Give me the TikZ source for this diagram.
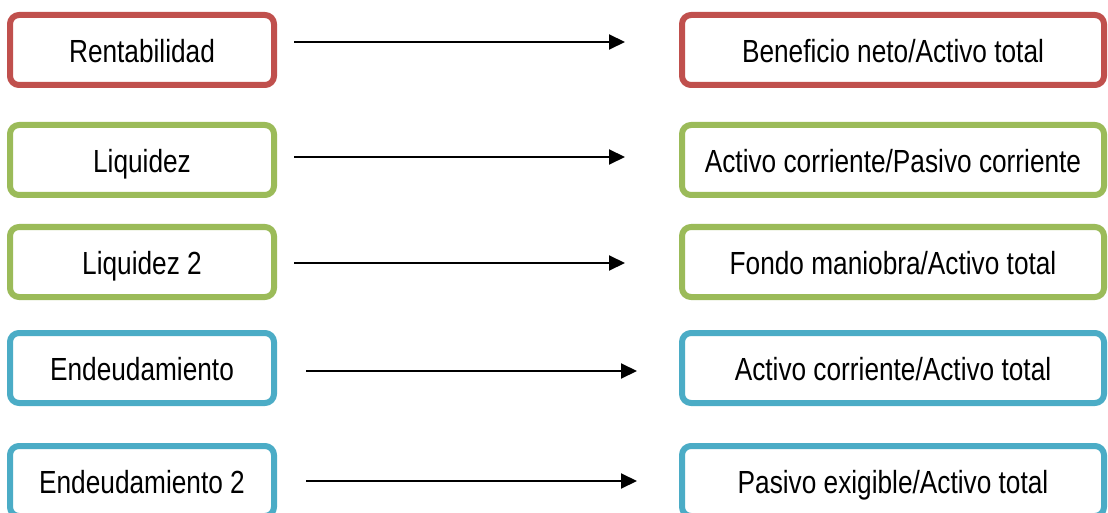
\documentclass[tikz,border=0pt]{standalone}
\usepackage{fontspec}
\setmainfont{Liberation Sans}[FakeStretch=0.82]
\usetikzlibrary{arrows.meta}
\definecolor{rojo}{HTML}{C0504D}
\definecolor{verde}{HTML}{9BBB59}
\definecolor{azul}{HTML}{4BACC6}
\tikzset{
  caja/.style={draw=#1, line width=6pt, rounded corners=9pt, fill=white, inner sep=0pt,
    text height=28pt, text depth=3pt},
  izq/.style={caja=#1, minimum width=264pt, minimum height=70pt},
  der/.style={caja=#1, minimum width=422pt, minimum height=70pt},
  flecha/.style={line width=2pt, -{Triangle[length=16pt,width=15pt]}}
}
\begin{document}
\begin{tikzpicture}[x=1pt, y=1pt, font=\fontsize{32}{38}\selectfont, line join=round]
			\useasboundingbox (0,0) rectangle (1108,-513);
			\def\xl{142} \def\xr{893}
			% columna izquierda
			\node[izq=rojo]  (l1) at (\xl,-50)  {Rentabilidad};
			\node[izq=verde] (l2) at (\xl,-160) {Liquidez};
			\node[izq=verde] (l3) at (\xl,-262) {Liquidez 2};
			\node[izq=azul]  (l4) at (\xl,-368) {Endeudamiento};
			\node[izq=azul]  (l5) at (\xl,-481) {Endeudamiento 2};
			% columna derecha
			\node[der=rojo]  (r1) at (\xr,-50)  {Beneficio neto/Activo total};
			\node[der=verde] (r2) at (\xr,-160) {Activo corriente/Pasivo corriente};
			\node[der=verde] (r3) at (\xr,-262) {Fondo maniobra/Activo total};
			\node[der=azul]  (r4) at (\xr,-368) {Activo corriente/Activo total};
			\node[der=azul]  (r5) at (\xr,-481) {Pasivo exigible/Activo total};
			% flechas
			\draw[flecha, shorten <=17pt, shorten >=54pt] ([yshift=8]l1.east) -- ([yshift=8]r1.west);
			\draw[flecha, shorten <=17pt, shorten >=54pt] ([yshift=3]l2.east) -- ([yshift=3]r2.west);
			\draw[flecha, shorten <=17pt, shorten >=54pt] ([yshift=-1]l3.east) -- ([yshift=-1]r3.west);
			\draw[flecha, shorten <=29pt, shorten >=42pt] ([yshift=-3]l4.east) -- ([yshift=-3]r4.west);
			\draw[flecha, shorten <=29pt, shorten >=42pt] (l5.east) -- (r5.west);
		\end{tikzpicture}
\end{document}
